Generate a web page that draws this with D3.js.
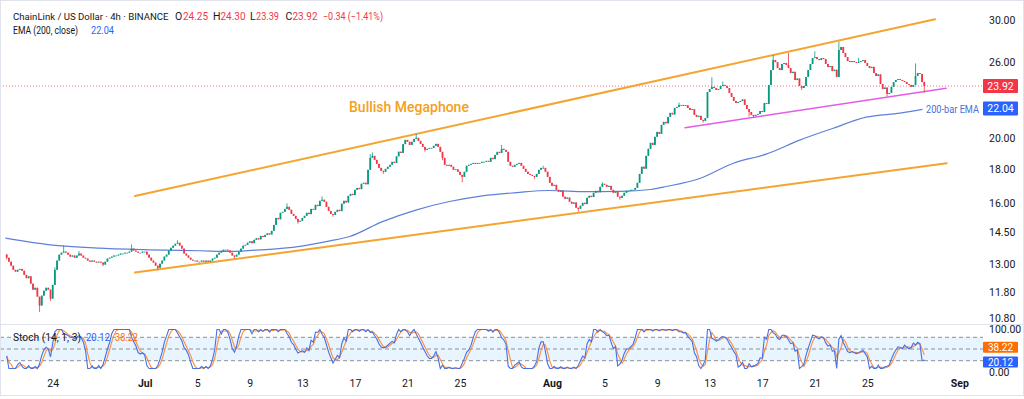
<!DOCTYPE html>
<html><head><meta charset="utf-8">
<script src="https://cdn.jsdelivr.net/npm/d3@7"></script>
<style>html,body{margin:0;padding:0;background:#fff;overflow:hidden}svg{display:block;font-family:Roboto,"Liberation Sans",sans-serif}</style>
</head><body><svg id="c" width="1024" height="399"></svg>
<script>
// ---------- DATA ----------
const firstCandle = "2025-06-20T12:00:00Z";
const candleHours = 4;
const firstOpen = 13.42;
const closes = [
13.28,13.10,12.92,12.74,12.66,12.74,12.78,12.70,12.52,12.38,
12.46,12.15,11.90,11.98,11.62,11.27,11.66,11.86,11.98,11.90,
11.54,12.10,12.74,13.15,13.42,13.51,13.56,13.51,13.42,13.33,
13.38,13.28,13.38,13.47,13.38,13.28,13.24,13.15,13.10,13.15,
13.10,13.06,13.10,13.06,12.97,13.10,13.24,13.28,13.33,13.38,
13.38,13.42,13.47,13.47,13.51,13.51,13.56,13.70,13.61,13.56,
13.51,13.51,13.56,13.56,13.42,13.28,13.15,13.06,12.92,12.83,
13.01,13.15,13.33,13.42,13.61,13.74,13.84,13.93,13.98,13.84,
13.70,13.47,13.38,13.28,13.19,13.15,13.15,13.10,13.10,13.15,
13.10,13.15,13.10,13.15,13.24,13.28,13.42,13.51,13.56,13.65,
13.65,13.61,13.51,13.38,13.33,13.42,13.56,13.70,13.84,13.88,
13.98,14.05,13.96,14.12,14.20,14.14,14.31,14.26,14.36,14.44,
14.38,14.56,14.86,15.22,15.15,15.49,15.54,15.70,15.81,15.65,
15.43,15.33,15.17,15.02,15.07,15.22,15.33,15.49,15.42,15.70,
15.65,15.92,15.85,16.14,16.20,16.09,15.81,15.59,15.43,15.38,
15.54,15.65,15.58,15.98,16.14,16.05,16.42,16.53,16.46,16.76,
16.87,16.80,17.11,17.17,17.08,17.95,18.70,18.83,18.57,18.32,
18.07,17.89,17.83,18.01,18.14,18.26,18.45,18.38,18.80,19.10,
19.02,19.60,19.89,19.76,19.55,19.76,19.96,20.03,19.82,19.62,
19.42,19.22,19.29,19.35,19.35,19.49,19.62,19.42,19.09,18.70,
18.26,18.20,18.26,18.14,17.95,17.98,17.83,17.64,17.52,17.83,
18.20,18.26,18.32,18.38,18.32,18.38,18.38,18.45,18.45,18.51,
18.45,18.70,18.62,18.89,19.09,19.02,19.29,19.22,19.09,18.45,
18.20,18.14,18.26,18.32,18.38,18.20,18.01,17.83,17.70,17.64,
17.58,17.52,17.70,17.95,18.07,18.07,17.83,17.52,17.17,16.99,
17.05,16.76,16.65,16.72,16.37,16.25,16.32,16.09,15.98,16.05,
15.76,15.70,15.87,16.03,15.96,16.31,16.42,16.35,16.59,16.70,
16.62,16.93,17.11,17.05,16.93,16.99,16.76,16.59,16.66,16.37,
16.31,16.42,16.59,16.70,16.70,16.76,16.76,16.87,17.17,17.70,
18.14,18.02,18.83,19.29,19.69,19.55,20.10,20.44,20.30,20.94,
21.16,21.05,21.52,21.82,21.70,22.19,22.27,22.42,22.42,22.34,
22.40,22.19,22.04,22.10,21.67,21.52,21.60,21.30,21.23,21.44,
23.44,23.68,23.85,23.76,23.60,23.68,23.93,24.01,23.93,23.76,
23.36,23.04,22.73,22.57,22.65,22.73,22.85,22.42,22.11,21.89,
21.67,21.59,21.67,21.74,21.96,21.88,22.57,22.50,24.01,25.27,
26.15,25.97,25.44,25.27,25.80,25.89,25.71,25.44,25.01,25.12,
24.42,24.55,23.93,23.76,23.93,24.68,25.27,25.80,26.33,26.42,
26.24,26.15,26.33,26.24,25.80,25.53,25.62,25.18,25.30,24.68,
27.07,27.35,26.79,26.42,26.06,25.97,26.06,25.97,25.89,25.97,
26.06,26.15,25.89,25.62,25.44,25.55,25.01,24.76,24.90,24.09,
23.68,23.80,23.28,23.36,23.85,24.25,24.42,24.50,24.42,24.34,
24.25,24.09,24.01,23.85,24.01,24.76,25.01,24.93,24.25,23.92
];
// notable wicks: [candle index, high, low]
const wicks = [
[0,13.45,13.20],[15,null,11.02],[20,null,11.45],[22,12.85,null],[26,13.85,null],
[33,13.58,null],[44,null,12.90],[57,13.90,null],[69,null,12.74],[78,14.10,null],
[98,13.62,null],[104,null,13.25],[128,16.00,null],[133,null,14.92],[144,16.38,null],
[149,null,15.28],[166,18.95,null],[167,19.05,null],[172,null,17.70],[187,20.30,null],
[191,null,19.10],[199,null,18.55],[208,null,17.20],[226,19.55,null],[241,null,17.40],
[245,18.20,null],[261,null,15.55],[272,17.20,null],[280,null,16.20],[307,22.60,null],
[318,null,21.10],[322,24.65,null],[327,24.30,null],[339,null,21.55],[341,null,21.45],
[350,26.60,null],[357,26.80,null],[363,null,23.60],[369,26.95,null],[380,27.85,null],
[389,26.35,null],[402,null,23.10],[415,25.85,null],[419,24.30,23.39]
];
// EMA(200): day offsets from 24 Jun 2025, values
const emaDays   = [-3.6,-0.2,3.6,7.4,11.2,13.5,15.8,18.8,21.1,22.6,25.1,27.7,30.2,32.7,35.3,37.8,40.6,43.2,45.5,46.7,49.3,51.8,54.3,56.9,59.4,61.9,64.5,66.2];
const emaValues = [14.20,13.88,13.72,13.64,13.60,13.57,13.64,13.81,14.07,14.28,15.03,15.65,16.10,16.42,16.60,16.72,16.66,16.67,16.78,16.95,17.44,18.36,18.94,19.89,20.70,21.50,21.80,22.08];
// drawn trend lines: [dayOffset, price]
const upperLine = [[6.26,16.41],[67.15,30.07]];
const lowerLine = [[6.26,12.62],[68.04,18.36]];
const pinkLine  = [[48.12,20.74],[68.0,23.74]];
const priceTicks = [30,26,20,18,16,14.5,13,11.8,10.8];
const stochTicks = [100,0];
const stochLevels = [80,50,20];
const timeTickDates = ["2025-06-24","2025-07-01","2025-07-05","2025-07-09","2025-07-13","2025-07-17","2025-07-21","2025-07-25","2025-08-01","2025-08-05","2025-08-09","2025-08-13","2025-08-17","2025-08-21","2025-08-25","2025-09-01"];
const timeTickLabels = ["24","Jul","5","9","13","17","21","25","Aug","5","9","13","17","21","25","Sep"];
const ohlcLabels = ["O","H","L","C"];
const ohlcValues = ["24.25","24.30","23.39","23.92"];
const changeText = "−0.34 (−1.41%)";
const lastClose = 23.92, emaLast = 22.04, stochK = 20.12, stochD = 38.22;

// ---------- BUILD ----------
const t0 = new Date(firstCandle).getTime();
const day0 = Date.UTC(2025,5,24);
const dayToDate = d => new Date(day0 + d*864e5);
const wickMap = new Map(wicks.map(w=>[w[0],w]));
const candles = closes.map((c,i)=>{
  const o = i===0 ? firstOpen : closes[i-1];
  const w = wickMap.get(i);
  let h = Math.max(o,c), l = Math.min(o,c);
  if (w){ if(w[1]!=null) h=Math.max(h,w[1]); if(w[2]!=null) l=Math.min(l,w[2]); }
  return {t:new Date(t0 + i*candleHours*3600e3), o, h, l, c};
});
// Stochastic (14,1,3)
const K = candles.map((d,i)=>{
  const win = candles.slice(Math.max(0,i-13), i+1);
  const hh = d3.max(win,e=>e.h), ll = d3.min(win,e=>e.l);
  return hh===ll ? 50 : 100*(d.c-ll)/(hh-ll);
});
const D = K.map((k,i)=>d3.mean(K.slice(Math.max(0,i-2),i+1)));

const svg = d3.select("#c");
const W = 1024, H = 399, paneR = 983, FS = 10;
const x = d3.scaleUtc().domain([Date.UTC(2025,5,20), Date.UTC(2025,8,3)]).range([0.14, 985.6]);
const y = d3.scaleLog().domain([10.8,30]).range([318,20]);
const ys = d3.scaleLinear().domain([0,100]).range([368.5,329.5]);
const f2 = d3.format(".2f");
const txt = (s,xx,yy,col,len,fs=FS)=>{
  const t = svg.append("text").attr("x",xx).attr("y",yy).attr("font-size",fs).attr("fill",col).text(s);
  if(len) t.attr("textLength",len).attr("lengthAdjust","spacingAndGlyphs");
  return t;
};

svg.append("rect").attr("x",0).attr("y",0).attr("width",W).attr("height",H).attr("fill","#fff");
svg.append("defs").append("clipPath").attr("id","pc").append("rect").attr("x",0).attr("y",0).attr("width",paneR).attr("height",324);

const pane = svg.append("g").attr("clip-path","url(#pc)");
// last price dotted line
pane.append("line").attr("x1",0).attr("x2",paneR).attr("y1",y(lastClose)).attr("y2",y(lastClose))
  .attr("stroke","#f23645").attr("stroke-dasharray","1,2").attr("stroke-width",1).attr("opacity",0.7);
// EMA
pane.append("path").datum(emaDays.map((d,i)=>[dayToDate(d),emaValues[i]]))
  .attr("d",d3.line().x(d=>x(d[0])).y(d=>y(d[1])).curve(d3.curveMonotoneX))
  .attr("fill","none").attr("stroke","#5f80da").attr("stroke-width",1.2);
// trend lines
const tl = (pts,col,w)=>pane.append("line")
  .attr("x1",x(dayToDate(pts[0][0]))).attr("y1",y(pts[0][1]))
  .attr("x2",x(dayToDate(pts[1][0]))).attr("y2",y(pts[1][1]))
  .attr("stroke",col).attr("stroke-width",w).attr("stroke-linecap","round");
tl(upperLine,"#f5a430",2);
tl(lowerLine,"#f5a430",2);
tl(pinkLine,"#e45ce6",1.5);
// candles
const up="#089981", dn="#f23645", bw=1.8;
const cg = pane.append("g");
cg.selectAll("line").data(candles).join("line")
  .attr("x1",d=>x(d.t)).attr("x2",d=>x(d.t)).attr("y1",d=>y(d.h)).attr("y2",d=>y(d.l))
  .attr("stroke",d=>d.c>=d.o?up:dn).attr("stroke-width",0.8);
cg.selectAll("rect").data(candles).join("rect")
  .attr("x",d=>x(d.t)-bw/2).attr("width",bw)
  .attr("y",d=>y(Math.max(d.o,d.c))).attr("height",d=>Math.max(0.8,Math.abs(y(d.o)-y(d.c))))
  .attr("fill",d=>d.c>=d.o?up:dn);

// labels in pane
txt("Bullish Megaphone",349,112,"#f5a01a",null,14).attr("font-weight",500);
txt("200-bar EMA",926,113,"#4a6fdc",53);

// legend
txt("ChainLink / US Dollar · 4h · BINANCE",13,20,"#131722",null,9.6);
const ohlcX = [175,213,250,285.5], ohlcVX = [183,220.5,256,292.5], ohlcW=[25,25,23,25];
ohlcLabels.forEach((k,i)=>{
  txt(k,ohlcX[i],20,"#131722",null,10.5);
  txt(ohlcValues[i],ohlcVX[i],20,"#f23645",ohlcW[i],10.5);
});
txt(changeText,323,20,"#f23645",60,10.5);
txt("EMA (200, close)",13,34,"#131722",65,10.5);
txt(f2(emaLast),91,34,"#2962ff",23,10.5);

// price axis
const ay = svg.append("g").attr("transform",`translate(${985},0)`)
  .call(d3.axisRight(y).tickValues(priceTicks).tickFormat(f2).tickSize(0).tickPadding(4));
ay.select(".domain").remove();
ay.selectAll("text").attr("font-size",10.5).attr("fill","#131722").attr("font-family","Roboto,sans-serif");
const box=(val,yy,col,h,fs)=>{
  svg.append("rect").attr("x",983).attr("y",yy-h/2).attr("width",35).attr("height",h).attr("fill",col).attr("rx",1);
  svg.append("text").attr("x",1000.5).attr("y",yy+fs*0.36).attr("text-anchor","middle").attr("fill","#fff").attr("font-size",fs).text(f2(val));
};
box(lastClose,y(lastClose),"#f23645",14,10.5);
box(emaLast,y(emaLast)-1.5,"#2962ff",14,10.5);

// separator
svg.append("line").attr("x1",0).attr("x2",W).attr("y1",324.5).attr("y2",324.5).attr("stroke","#e0e3eb");

// stoch pane
const sp = svg.append("g");
sp.append("rect").attr("x",0).attr("width",paneR).attr("y",ys(80)).attr("height",ys(20)-ys(80)).attr("fill","#2196f3").attr("opacity",0.1);
stochLevels.forEach(v=>sp.append("line").attr("x1",0).attr("x2",paneR).attr("y1",ys(v)).attr("y2",ys(v))
  .attr("stroke","#8c8f99").attr("stroke-dasharray","4,3").attr("stroke-width",1));
const sl = arr=>d3.line().x((d,i)=>x(candles[i].t)).y(d=>ys(d))(arr);
sp.append("path").attr("d",sl(D)).attr("fill","none").attr("stroke","#ff8c3a").attr("stroke-width",1.1);
sp.append("path").attr("d",sl(K)).attr("fill","none").attr("stroke","#4570e6").attr("stroke-width",1.1);
txt("Stoch (14, 1, 3)",13,341,"#131722",68,10.5);
txt(f2(stochK),86,341,"#2962ff",24,10.5);
txt(f2(stochD),115,341,"#ff6d00",23,10.5);
const as = svg.append("g").attr("transform",`translate(${985},0)`)
  .call(d3.axisRight(ys).tickValues(stochTicks).tickFormat(f2).tickSize(0).tickPadding(4));
as.select(".domain").remove();
as.selectAll("text").attr("font-size",10.5).attr("fill","#131722").attr("font-family","Roboto,sans-serif");
as.selectAll(".tick").filter(d=>d===0).attr("transform",`translate(0,${ys(0)+4.5})`);
box(stochD,347.2,"#ff6d00",11,10);
box(stochK,362,"#2962ff",11,10);

// time axis
const ax = svg.append("g").attr("transform","translate(0,378)")
  .call(d3.axisBottom(x).tickValues(timeTickDates.map(s=>new Date(s+"T00:00:00Z"))).tickFormat((d,i)=>timeTickLabels[i]).tickSize(0).tickPadding(2));
ax.select(".domain").remove();
ax.selectAll("text").attr("font-size",10.5).attr("fill","#131722").attr("font-family","Roboto,sans-serif")
  .attr("font-weight",(d,i)=>/[A-Za-z]/.test(timeTickLabels[i])?"bold":"normal");

// outer frame
svg.append("rect").attr("x",0.5).attr("y",0.5).attr("width",W-1).attr("height",H-4).attr("fill","none").attr("stroke","#e0e3eb");
</script></body></html>
